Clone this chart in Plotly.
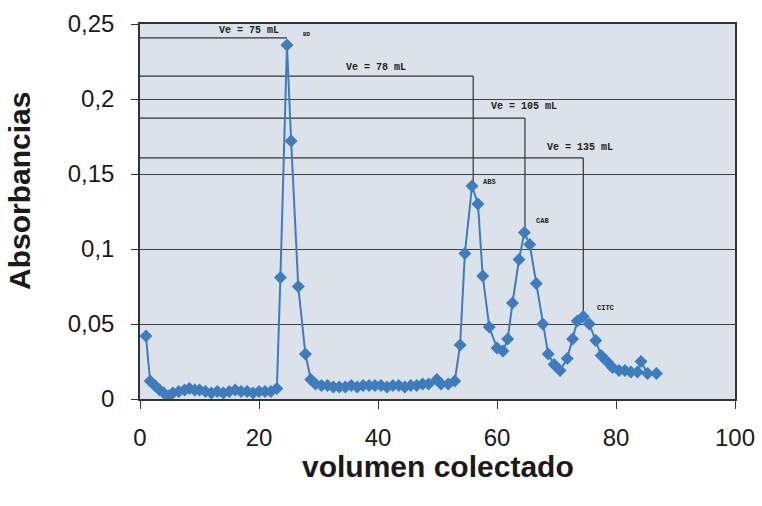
import plotly.graph_objects as go

# Data
volumen = [1.0, 1.7, 2.5, 3.3, 4.0, 4.8, 5.5, 6.5, 7.5, 8.3, 9.2, 10.0, 11.0, 12.0, 13.0,
           14.0, 15.0, 16.0, 17.0, 18.0, 19.0, 20.0, 21.0, 22.0, 23.0, 23.6, 24.7, 25.4,
           26.6, 27.8, 28.7, 29.5, 30.5, 31.5, 32.5, 33.5, 34.5, 35.5, 36.5, 37.5, 38.5,
           39.5, 40.5, 41.5, 42.5, 43.5, 44.5, 45.5, 46.5, 47.5, 48.5, 49.9, 50.6, 51.8,
           52.9, 53.8, 54.6, 55.8, 56.8, 57.6, 58.7, 60.0, 61.0, 61.8, 62.6, 63.7, 64.6,
           65.5, 66.6, 67.7, 68.6, 69.6, 70.6, 71.8, 72.7, 73.5, 74.5, 75.5, 76.6, 77.5,
           78.5, 79.4, 80.5, 81.5, 82.5, 83.6, 84.2, 85.3, 86.8]
absorbancia = [0.042, 0.012, 0.009, 0.006, 0.004, 0.002, 0.004, 0.005, 0.006, 0.007, 0.006,
               0.006, 0.005, 0.004, 0.005, 0.004, 0.005, 0.006, 0.005, 0.005, 0.004, 0.005,
               0.005, 0.005, 0.007, 0.081, 0.236, 0.172, 0.075, 0.030, 0.013, 0.010, 0.009,
               0.009, 0.008, 0.008, 0.008, 0.009, 0.008, 0.009, 0.009, 0.009, 0.009, 0.008,
               0.009, 0.009, 0.008, 0.009, 0.009, 0.010, 0.010, 0.013, 0.010, 0.010, 0.012,
               0.036, 0.097, 0.142, 0.130, 0.082, 0.048, 0.034, 0.032, 0.040, 0.064, 0.093,
               0.111, 0.103, 0.077, 0.050, 0.030, 0.023, 0.019, 0.027, 0.040, 0.052, 0.055,
               0.050, 0.039, 0.029, 0.025, 0.021, 0.019, 0.019, 0.018, 0.018, 0.025, 0.017,
               0.017]

# Elution-volume reference lines
ve_labels = ["Ve = 75 mL", "Ve = 78 mL", "Ve = 105 mL", "Ve = 135 mL"]
ve_level = [0.2407, 0.2153, 0.1873, 0.1607]
ve_peak_x = [24.7, 56.0, 64.7, 74.5]
ve_peak_y = [0.236, 0.142, 0.111, 0.055]
ve_label_x = [18.3, 39.7, 64.5, 73.9]
ve_label_y = [0.246, 0.2213, 0.1947, 0.168]

peak_names = ["ABS", "CAB", "CITC"]
peak_name_x = [58.8, 67.7, 78.2]
peak_name_y = [0.1447, 0.1185, 0.061]

y_ticks = [0, 0.05, 0.1, 0.15, 0.2, 0.25]
x_ticks = [0, 20, 40, 60, 80, 100]

blue = "#3d7dbf"
dark = "#333333"

fig = go.Figure()
fig.add_trace(go.Scatter(
    x=volumen, y=absorbancia, mode="lines+markers",
    line=dict(color=blue, width=2),
    marker=dict(symbol="diamond", size=10, color=blue),
    showlegend=False, hoverinfo="x+y"))

shapes = []
for lvl, px, py in zip(ve_level, ve_peak_x, ve_peak_y):
    shapes.append(dict(type="line", xref="x", yref="y", x0=0, x1=px, y0=lvl, y1=lvl,
                       line=dict(color=dark, width=1.2), layer="below"))
    if py < lvl - 0.01:
        shapes.append(dict(type="line", xref="x", yref="y", x0=px, x1=px, y0=lvl, y1=py,
                           line=dict(color=dark, width=1.2), layer="below"))

annotations = []
mono = dict(family="Liberation Mono, Courier New, monospace", size=10, color="#222")
for t, ax, ay in zip(ve_labels, ve_label_x, ve_label_y):
    annotations.append(dict(x=ax, y=ay, xref="x", yref="y", text="<b>" + t + "</b>",
                            showarrow=False, font=mono))
annotations.append(dict(x=28.0, y=0.2427, xref="x", yref="y", text="<b>BD</b>",
                        showarrow=False, font=dict(family=mono["family"], size=6, color="#222")))
for t, ax, ay in zip(peak_names, peak_name_x, peak_name_y):
    annotations.append(dict(x=ax, y=ay, xref="x", yref="y", text="<b>" + t + "</b>",
                            showarrow=False, font=dict(family=mono["family"], size=7, color="#222")))

# Axis titles placed as annotations to match their offset positions
annotations.append(dict(text="<b>Absorbancias</b>", xref="paper", yref="paper",
                        x=-0.2017, y=0.5547, xanchor="center", yanchor="middle",
                        textangle=-90, showarrow=False, font=dict(size=30)))
annotations.append(dict(text="<b>volumen colectado</b>", xref="paper", yref="paper",
                        x=0.5, y=-0.179, xanchor="center", yanchor="middle",
                        showarrow=False, font=dict(size=30)))

fig.update_layout(
    width=762, height=506,
    margin=dict(l=140, r=27, t=24, b=107),
    paper_bgcolor="white", plot_bgcolor="#dce2e9",
    separators=",.",
    font=dict(family="Liberation Sans, Arial, sans-serif", color="#1a1a1a"),
    shapes=shapes, annotations=annotations,
    xaxis=dict(range=[0, 100], tickvals=x_ticks, showgrid=False, zeroline=False,
               showline=True, linecolor=dark, linewidth=1.5, mirror=True,
               ticks="outside", ticklen=8, tickcolor=dark,
               tickfont=dict(size=24), ticklabelstandoff=8, automargin=False),
    yaxis=dict(range=[0, 0.25], tickvals=y_ticks, showgrid=True, gridcolor="#404040",
               gridwidth=1, zeroline=False,
               showline=True, linecolor=dark, linewidth=1.5, mirror=True,
               ticks="outside", ticklen=7, tickcolor=dark,
               tickfont=dict(size=24), ticklabelstandoff=12, automargin=False),
)

fig.write_html("out.html")
